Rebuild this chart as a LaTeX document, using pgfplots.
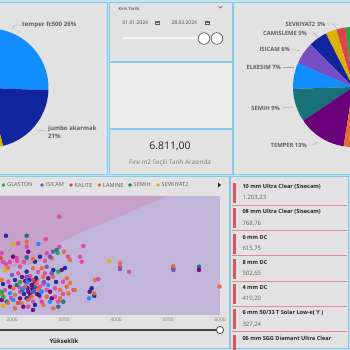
\documentclass[border=0pt]{standalone}
\usepackage{fontspec}
\setmainfont{Open Sans}
\usepackage{pgfplots}
\pgfplotsset{compat=1.18}
\definecolor{pagebg}{HTML}{C4E3F2}
\definecolor{panelborder}{HTML}{86C8E8}
\definecolor{panel}{HTML}{E2E2E2}
\definecolor{panellight}{HTML}{ECECEC}
\definecolor{pbBlue}{HTML}{118DFF}
\definecolor{pbDBlue}{HTML}{12239E}
\definecolor{pbOrange}{HTML}{E66C37}
\definecolor{pbDPurple}{HTML}{6B007B}
\definecolor{pbPink}{HTML}{E044A7}
\definecolor{pbPurple}{HTML}{744EC2}
\definecolor{pbYellow}{HTML}{D9B300}
\definecolor{pbRed}{HTML}{D64550}
\definecolor{pbTeal}{HTML}{197278}
\definecolor{pbGreen}{HTML}{1AAB40}
\definecolor{lblgray}{HTML}{605E5C}
\definecolor{darktext}{HTML}{252423}
\definecolor{lavender}{HTML}{C1B6D9}
\definecolor{pinkreg}{HTML}{C5A1C9}
\definecolor{cardred}{HTML}{E0525C}
\definecolor{cardline}{HTML}{E88A92}
\pgfplotsset{psize/.style={scatter, only marks, mark=*,
  visualization depends on={\thisrow{s}\as\msize},
  scatter/@pre marker code/.append style={/tikz/mark size={1.1*\msize}}}}
\newcommand{\card}[3]{%
  \fill[cardred] (232.5,#1-2) rectangle (235.5,#1-22);
  \draw[cardline, line width=0.7pt] (232,#1-24) -- (347,#1-24);
  \node[anchor=west, font=\fontsize{5.6}{6}\selectfont\bfseries, text=darktext] at (239,#1-5.5) {#2};
  \node[anchor=west, font=\fontsize{6}{7}\selectfont, text=lblgray] at (239,#1-17) {#3};
}
\begin{document}
\begin{tikzpicture}[x=1pt,y=1pt]
\path[use as bounding box] (0,0) rectangle (350,350);
\clip (0,0) rectangle (350,350);
\fill[pagebg] (0,0) rectangle (350,350);
% panels
\filldraw[fill=panel, draw=panelborder, line width=0.8pt] (-2,176) rectangle (107,348);
\filldraw[fill=panel, draw=panelborder, line width=0.8pt] (109,289) rectangle (232,348);
\filldraw[fill=panellight, draw=panelborder, line width=0.8pt] (109,222) rectangle (232,288);
\filldraw[fill=panel, draw=panelborder, line width=0.8pt] (109,176) rectangle (232,221);
\filldraw[fill=panel, draw=panelborder, line width=0.8pt] (233.5,176) rectangle (352,348);
\filldraw[fill=panel, draw=panelborder, line width=0.8pt] (-2,2) rectangle (229,174);
\filldraw[fill=panel, draw=panelborder, line width=0.8pt] (230.5,2) rectangle (348.5,174);

% slicer
\node[anchor=west, font=\fontsize{4.3}{5}\selectfont, text=darktext] at (115,341) {Kırık Tarihi};
\draw[lblgray, line width=0.4pt] (218.5,344) -- (220.5,342) -- (222.5,344);
\node[anchor=west, font=\fontsize{5}{6}\selectfont, text=darktext!85] at (119,327) {01.01.2024};
\draw[lblgray, line width=0.4pt] (155.5,325.5) rectangle (159.5,329);
\draw[lblgray, line width=0.4pt] (155.5,328) -- (159.5,328);
\node[anchor=west, font=\fontsize{5}{6}\selectfont, text=darktext!85] at (168,327) {28.03.2024};
\draw[lblgray, line width=0.4pt] (205,325.5) rectangle (209,329);
\draw[lblgray, line width=0.4pt] (205,328) -- (209,328);
\draw[white!96!black, line width=1.6pt, line cap=round] (123,312) -- (204,312);
\filldraw[fill=white, draw=darktext!80, line width=0.6pt] (204,311.5) circle (5.8);
\filldraw[fill=white, draw=darktext!80, line width=0.6pt] (217,311.5) circle (5.8);

% card
\node[font=\fontsize{10.5}{12}\selectfont, text=darktext] at (170,204) {6.811,00};
\node[font=\fontsize{6.3}{7}\selectfont, text=lblgray!85] at (170,187) {Fire m2 Seçili Tarih Arasında};

% pies
\begin{axis}[at={(0,0)}, anchor=south west, scale only axis, width=350pt, height=350pt,
  xmin=0, xmax=350, ymin=0, ymax=350, hide axis, clip=false]
% left pie: temper fc500 26%, jumbo akarmak 21%, ...
\fill[pbBlue] (axis cs:-11,262) -- ++(90:59.5pt) arc[start angle=90, end angle=-2.2, radius=59.5pt] -- cycle;
\fill[pbDBlue] (axis cs:-11,262) -- ++(-2.2:59.5pt) arc[start angle=-2.2, end angle=-76.4, radius=59.5pt] -- cycle;
\fill[pbYellow] (axis cs:-11,262) -- ++(-76.4:59.5pt) arc[start angle=-76.4, end angle=-100, radius=59.5pt] -- cycle;
\fill[pbOrange] (axis cs:-11,262) -- ++(-100:59.5pt) arc[start angle=-100, end angle=-270, radius=59.5pt] -- cycle;
% right pie
\fill[pbGreen] (axis cs:353,263) -- ++(90:60pt) arc[start angle=90, end angle=97.2, radius=60pt] -- cycle;
\fill[pbRed] (axis cs:353,263) -- ++(97.2:60pt) arc[start angle=97.2, end angle=106.2, radius=60pt] -- cycle;
\fill[pbYellow] (axis cs:353,263) -- ++(106.2:60pt) arc[start angle=106.2, end angle=117, radius=60pt] -- cycle;
\fill[pbDBlue] (axis cs:353,263) -- ++(117:60pt) arc[start angle=117, end angle=135, radius=60pt] -- cycle;
\fill[pbPurple] (axis cs:353,263) -- ++(135:60pt) arc[start angle=135, end angle=156.6, radius=60pt] -- cycle;
\fill[pbBlue] (axis cs:353,263) -- ++(156.6:60pt) arc[start angle=156.6, end angle=181.8, radius=60pt] -- cycle;
\fill[pbTeal] (axis cs:353,263) -- ++(181.8:60pt) arc[start angle=181.8, end angle=214.2, radius=60pt] -- cycle;
\fill[pbDPurple] (axis cs:353,263) -- ++(214.2:60pt) arc[start angle=214.2, end angle=261, radius=60pt] -- cycle;
\fill[pbOrange] (axis cs:353,263) -- ++(261:60pt) arc[start angle=261, end angle=289.8, radius=60pt] -- cycle;
\fill[pbPink] (axis cs:353,263) -- ++(289.8:60pt) arc[start angle=289.8, end angle=450, radius=60pt] -- cycle;
\end{axis}

% left pie labels
\draw[gray!70, line width=0.4pt] (12,321) -- (15,325) -- (21,325);
\node[anchor=west, inner sep=0pt, font=\fontsize{6.1}{7}\selectfont\bfseries, text=lblgray] at (22,325) {temper fc500 26\%};
\draw[gray!70, line width=0.4pt] (37,220) -- (46,219);
\node[anchor=west, inner sep=0pt, font=\fontsize{6.1}{7}\selectfont\bfseries, text=lblgray] at (48,221.5) {jumbo akarmak};
\node[anchor=west, inner sep=0pt, font=\fontsize{6.1}{7}\selectfont\bfseries, text=lblgray] at (48,213.5) {21\%};

% right pie labels
\begin{scope}[every node/.style={anchor=east, inner sep=0pt, font=\fontsize{5.8}{7}\selectfont\bfseries, text=lblgray}]
\draw[gray!70, line width=0.4pt] (327,326) -- (333,326) -- (337,321);
\node at (325.5,326) {SEVKIYAT2 3\%};
\draw[gray!70, line width=0.4pt] (308.5,317) -- (314,317) -- (318,313);
\node at (307,317) {CAMISLEME 5\%};
\draw[gray!70, line width=0.4pt] (291.5,301) -- (300,299);
\node at (290,301) {ISICAM 6\%};
\draw[gray!70, line width=0.4pt] (282.5,283) -- (294,283);
\node at (281,283) {ELKESIM 7\%};
\draw[gray!70, line width=0.4pt] (281.5,242) -- (293,243);
\node at (280,242) {SEMIH 9\%};
\draw[gray!70, line width=0.4pt] (308.5,205) -- (313,205) -- (318,208);
\node at (307,205) {TEMPER 13\%};
\end{scope}

% scatter legend
\begin{scope}[every node/.style={anchor=west, inner sep=0pt, font=\fontsize{5.6}{6}\selectfont, text=lblgray}]
\fill[pbGreen] (3.5,165) circle (1.9); \node at (7,165) {GLASTON};
\fill[pbPurple] (42,165) circle (1.9); \node at (45.5,165) {ISICAM};
\fill[pbRed] (71,165) circle (1.9); \node at (74.5,165) {KALITE};
\fill[pbOrange] (99.5,165) circle (1.9); \node at (103,165) {LAMINE};
\fill[pbTeal] (130,165) circle (1.9); \node at (133.5,165) {SEMIH};
\fill[pbYellow] (158,165) circle (1.9); \node at (161.5,165) {SEVKIYAT2};
\end{scope}
\fill[darktext] (218,167.5) -- (221,165) -- (218,162.5) -- cycle;

% scatter
\begin{axis}[at={(0,35)}, anchor=south west, scale only axis, width=220pt, height=119pt,
  xmin=1769, xmax=6000, ymin=0, ymax=119, axis line style={draw=none},
  ytick=\empty, xtick={2000,3000,4000,5000,6000}, xticklabels={2000,3000,4000,5000,6000},
  major tick length=0pt,
  xticklabel style={font=\fontsize{5}{6}\selectfont, text=lblgray!80, inner sep=2.5pt},
  axis background/.style={fill=lavender}, clip=true,
  every axis plot/.append style={fill opacity=0.92, draw opacity=0.92}]
\addplot[fill=pinkreg, draw=none, fill opacity=1] coordinates {(1769,119) (5000,119) (3307,82) (2900,72) (2731,56) (2300,50) (1769,46)};
\addplot[psize, scatter/use mapped color={draw=pbPink, fill=pbPink}] table {
x y s
2909 98.3 1.8
2648 75.7 1.7
2121 71.7 2
2282 68.3 2.2
2282 58.3 2.2
2909 68.3 2
3077 58.3 2
2667 61.7 1.8
1802 61.7 2.2
2090 57 2.2
1827 53 3.6
1961 53 3.6
2096 54 3.2
1884 51 3.2
2634 54 2
2154 48.3 2
2121 41.7 2
2634 41.7 2
2980 33.3 1.8
1929 33.3 2
2282 31.7 2
2475 26.7 2
2538 28.3 2
1865 25 2
2154 23.3 2
2667 25 2
2827 26.7 1.8
3179 25 1.8
2538 18.3 2
2827 18.3 1.8
2890 13.3 1.8
2410 13.3 2
2571 13.3 1.8
2313 8.3 1.8
3307 58.3 2
3340 53.3 2
3371 69 2
4077 48 1.5
4250 43.3 2
3660 36 4.6
2346 39 2
2230 53 2.4
2500 43 2
1981 17 2
2980 21 1.8
2330 17 2
2480 35 2
2140 28 2
2600 31 2
};
\addplot[psize, scatter/use mapped color={draw=pbTeal, fill=pbTeal}] table {
x y s
2282 79.3 2
2859 65 1.8
2282 57.3 2
2379 30 4.6
2404 23.3 2
2090 30 1.8
2986 13.3 2
1898 13.3 2
2890 8.3 1.8
5102 46.7 2.2
5596 48.3 2.2
2440 28 1.8
2200 25 1.8
};
\addplot[psize, scatter/use mapped color={draw=pbDPurple, fill=pbDPurple}] table {
x y s
2313 63.3 2.2
2019 58.3 2
2955 45 1.8
2698 36.7 2
2379 30 3
2313 23.3 2
1961 28.3 2
2731 23.3 2
2763 16.7 2
2154 16.7 2
1802 15 2
2217 8.3 2
3494 23.3 2
5596 45 2
2192 38 2
2480 21 2
2404 5 1.8
2300 27 2
2440 33 2
2350 20 2
2250 34 2
};
\addplot[psize, scatter/use mapped color={draw=pbDBlue, fill=pbDBlue}] table {
x y s
1884 79.3 2.2
2538 58.3 1.8
2442 53.3 2
2282 43.3 2
2794 45 1.8
2057 35 2
2282 16.7 2
2442 10 1.8
3532 26.7 2
3582 19.3 2
2461 37 1.8
2230 21 1.8
1827 31 2
3019 47 1.8
2846 33 1.8
2390 26 2
2330 35 1.8
2520 20 1.8
};
\addplot[psize, scatter/use mapped color={draw=pbOrange, fill=pbOrange}] table {
x y s
2282 73.3 2
2999 63.3 2
3115 55 2
2404 56 2
2763 56.7 2
2404 46.7 2
2571 46.7 2.2
2602 38.3 3.2
2788 38.3 2
3052 36.7 2
1802 35 2
2475 31.7 2
2025 26.7 2
1802 21 1.8
2057 20 2
2923 25 2
3052 28.3 2
3083 21.7 2
2667 18.3 2
2923 16.7 2
2379 18.3 2
2057 6.7 2.8
2602 10 2
2794 6.7 2
4077 51.7 2.2
3596 35 2.2
3582 21.7 1.8
3211 25 1.8
5102 49 2.2
5990 28.3 4.2
1923 47 1.8
2307 15 1.8
3115 32 2
1923 12 2
2250 28 2
2520 25 2
2180 12 2
};
\addplot[psize, scatter/use mapped color={draw=pbBlue, fill=pbBlue}] table {
x y s
2506 71 2
2217 26.7 2
1961 21.7 1.8
2571 23.3 1.8
2025 15 1.8
2731 13.3 1.8
3480 16.7 1.8
2692 30 1.8
2300 33 1.8
};
\addplot[psize, scatter/use mapped color={draw=pbPurple, fill=pbPurple}] table {
x y s
2788 63.3 1.8
2731 58.3 1.8
2667 48.3 1.8
2763 41.7 1.8
4077 46 2
5102 45 2
1999 40 1.8
2615 33 1.8
2420 24 1.8
2280 38 1.8
};
\addplot[psize, scatter/use mapped color={draw=pbGreen, fill=pbGreen}] table {
x y s
2875 62 1.8
2890 43.3 1.8
1802 23.3 2
1832 18.3 2
2154 33 1.6
};
\addplot[psize, scatter/use mapped color={draw=pbYellow, fill=pbYellow}] table {
x y s
2025 71 2
1865 45 2
3871 54.3 1.6
1827 9 1.8
};
\addplot[psize, scatter/use mapped color={draw=pbRed, fill=pbRed}] table {
x y s
1779 57 2
2115 12 1.8
2404 35 1.8
};
\end{axis}

% range slider
\draw[darktext!85, line width=1.3pt] (-2,20) -- (220,20);
\filldraw[fill=white, draw=darktext!85, line width=0.8pt] (220,20) circle (3.6);
\node[font=\fontsize{6}{7}\selectfont\bfseries, text=darktext] at (64,9) {Yükseklik};

% list cards
\card{169}{10 mm Ultra Clear (Sisecam)}{1.203,23}
\card{143.7}{08 mm Ultra Clear (Sisecam)}{768,76}
\card{118.4}{6 mm DC}{615,75}
\card{93.1}{8 mm DC}{502,65}
\card{67.8}{4 mm DC}{410,20}
\card{42.5}{6 mm 50/33 T Solar Low-e( Y )}{327,24}
\card{17.2}{06 mm SGG Diamant Ultra Clear}{}
\end{tikzpicture}
\end{document}
